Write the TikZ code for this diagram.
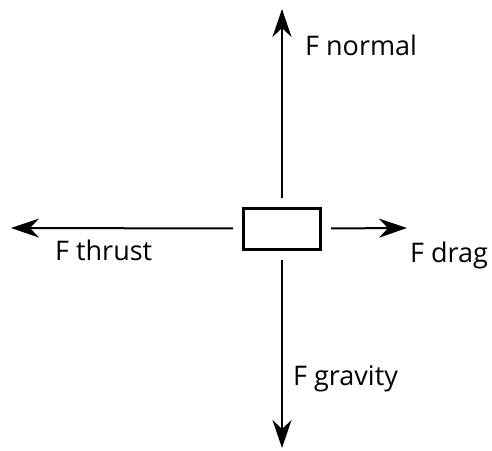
\documentclass[tikz,border=0pt]{standalone}
\usepackage{fontspec}
\setmainfont{Open Sans}
\usetikzlibrary{arrows.meta, positioning}

\tikzset{
  force/.style={line width=2pt, -{Stealth[length=28pt, width=19pt, inset=9pt]}, shorten <=9pt},
  forcelabel/.style={font=\fontsize{27}{30}\selectfont, inner sep=0pt},
}

\begin{document}
\begin{tikzpicture}[x=1pt, y=-1pt]
  \useasboundingbox (0,0) rectangle (492,450);

  % Body
  \node[draw, line width=3pt, minimum width=77pt, minimum height=41pt,
        inner sep=0pt] (box) at (282,228.5) {};

  % Arrow tips
  \coordinate (tipN) at (282,9);
  \coordinate (tipS) at (282,448);
  \coordinate (tipW) at (11,228);
  \coordinate (tipE) at (407,228);

  % Forces
  \draw[force] (box.north) -- (tipN);
  \draw[force] (box.south) -- (tipS);
  \draw[force] (box.west) -- (tipW);
  \draw[force] (box.east) -- (tipE);

  % Labels
  \node[forcelabel, anchor=base west] (normal) at (305,55) {F normal};
  \node[forcelabel, anchor=base west] (thrust) at (55,260) {F thrust};
  \node[forcelabel, anchor=base west] (drag) at (410,262) {F drag};
  \node[forcelabel, anchor=base west] (gravity) at (293,385) {F gravity};
\end{tikzpicture}
\end{document}
